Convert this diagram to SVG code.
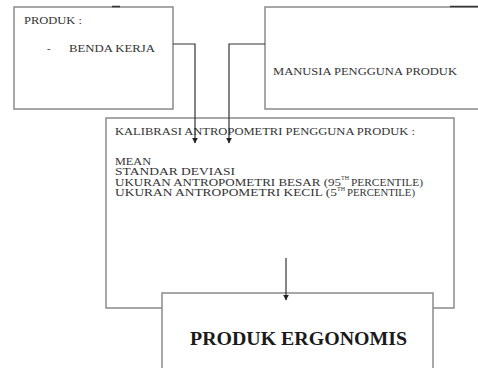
<svg xmlns="http://www.w3.org/2000/svg" width="478" height="368" viewBox="0 0 478 368">
<style>
.box{fill:#fff;stroke:#8a8a8a;stroke-width:1.5}
.t{font-family:"Liberation Serif","Times New Roman",serif;font-size:10.5px;fill:#333}
.b{font-family:"Liberation Serif","Times New Roman",serif;font-size:18px;font-weight:bold;fill:#1a1a1a}
.c{fill:none;stroke:#333;stroke-width:1.2}
.sup{font-size:6px}
</style>
<defs>
<marker id="ah" viewBox="0 0 10 10" refX="9" refY="5" markerWidth="6" markerHeight="6" orient="auto" markerUnits="userSpaceOnUse">
<path d="M0,0 L10,5 L0,10 z" fill="#222"/>
</marker>
</defs>
<rect width="478" height="368" fill="#fff"/>
<g id="produk">
<rect class="box" x="14" y="7" width="159" height="102"/>
<line x1="112" y1="6.5" x2="120" y2="6.5" stroke="#333" stroke-width="1.5"/>
<text class="t" x="24" y="24" textLength="58" lengthAdjust="spacingAndGlyphs">PRODUK :</text>
<text class="t" x="47" y="52">-</text>
<text class="t" x="69" y="52" textLength="86" lengthAdjust="spacingAndGlyphs">BENDA KERJA</text>
</g>
<g id="manusia">
<rect class="box" x="265" y="7" width="220" height="102"/>
<line x1="450" y1="6.5" x2="478" y2="6.5" stroke="#333" stroke-width="1.5"/>
<text class="t" x="273" y="75" textLength="184" lengthAdjust="spacingAndGlyphs">MANUSIA PENGGUNA PRODUK</text>
</g>
<g id="kalibrasi">
<rect class="box" x="106" y="118" width="348" height="190"/>
<text class="t" x="115" y="135" textLength="300" lengthAdjust="spacingAndGlyphs">KALIBRASI ANTROPOMETRI PENGGUNA PRODUK :</text>
<text class="t" x="115" y="165" textLength="36" lengthAdjust="spacingAndGlyphs">MEAN</text>
<text class="t" x="115" y="175" textLength="120" lengthAdjust="spacingAndGlyphs">STANDAR DEVIASI</text>
<text class="t" x="115" y="185.5" textLength="226" lengthAdjust="spacingAndGlyphs">UKURAN ANTROPOMETRI BESAR (95</text>
<text class="t sup" x="341" y="180">TH</text>
<text class="t" x="351" y="185.5" textLength="72" lengthAdjust="spacingAndGlyphs">PERCENTILE)</text>
<text class="t" x="115" y="196" textLength="222" lengthAdjust="spacingAndGlyphs">UKURAN ANTROPOMETRI KECIL (5</text>
<text class="t sup" x="337" y="191">TH</text>
<text class="t" x="347" y="196" textLength="68" lengthAdjust="spacingAndGlyphs">PERCENTILE)</text>
</g>
<g id="ergonomis">
<rect class="box" x="162" y="293" width="271" height="90"/>
<text class="b" x="190" y="345" textLength="217" lengthAdjust="spacingAndGlyphs">PRODUK ERGONOMIS</text>
</g>
<g id="connectors">
<path class="c" d="M173,44 H195 V143" marker-end="url(#ah)"/>
<path class="c" d="M265,44 H229 V143" marker-end="url(#ah)"/>
<path class="c" d="M286,258 V300" marker-end="url(#ah)"/>
</g>
</svg>
